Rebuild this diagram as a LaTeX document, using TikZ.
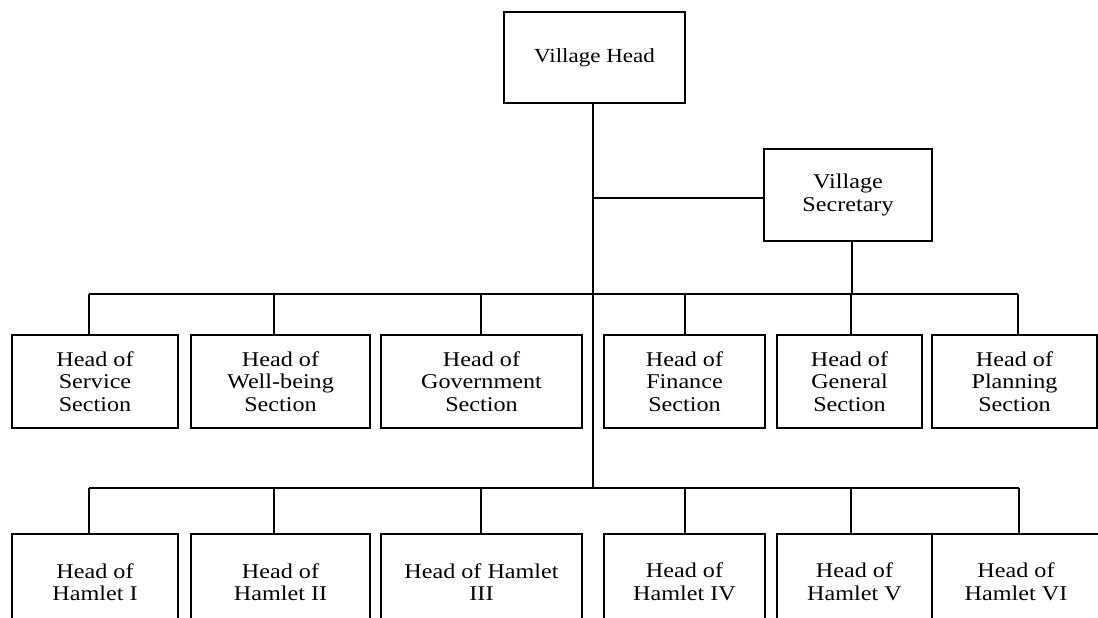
\documentclass[tikz,border=0pt]{standalone}
\usepackage{fontspec}
\setmainfont{Liberation Serif}[FakeStretch=1.15]
\tikzset{
  unitbox/.style={draw, line width=1pt, align=center, inner sep=0pt,
    font=\fontsize{10.5}{11.3}\selectfont},
  link/.style={line width=0.55pt},
}

\begin{document}
\begin{tikzpicture}[x=0.5pt, y=-0.5pt]
  \clip (0,0) rectangle (1098,617);
  \useasboundingbox (0,0) rectangle (1098,617);

  % Top level
  \node[unitbox, minimum width=90.5pt, minimum height=45.5pt, font=\fontsize{10}{11.3}\selectfont] (head) at (594.5,57.5) {Village Head};
  \node[unitbox, minimum width=84pt, minimum height=46pt] (sec) at (848,195) {Village\\Secretary};

  % Sections
  \node[unitbox, minimum width=83pt, minimum height=46.5pt] (s1) at (95,381.5) {Head of\\Service\\Section};
  \node[unitbox, minimum width=89.5pt, minimum height=46.5pt] (s2) at (280.5,381.5) {Head of\\Well-being\\Section};
  \node[unitbox, minimum width=100.5pt, minimum height=46.5pt] (s3) at (481.5,381.5) {Head of\\Government\\Section};
  \node[unitbox, minimum width=80.5pt, minimum height=46.5pt] (s4) at (684.5,381.5) {Head of\\Finance\\Section};
  \node[unitbox, minimum width=72.5pt, minimum height=46.5pt] (s5) at (849.5,381.5) {Head of\\General\\Section};
  \node[unitbox, minimum width=82.5pt, minimum height=46.5pt] (s6) at (1014.5,381.5) {Head of\\Planning\\Section};

  % Hamlets
  \node[unitbox, minimum width=83pt, minimum height=48pt] (h1) at (95,582) {Head of\\Hamlet I};
  \node[unitbox, minimum width=89.5pt, minimum height=48pt] (h2) at (280.5,582) {Head of\\Hamlet II};
  \node[unitbox, minimum width=100.5pt, minimum height=48pt] (h3) at (481.5,582) {Head of Hamlet\\III};
  \node[unitbox, minimum width=80.5pt, minimum height=48pt] (h4) at (684.5,582) {Head of\\Hamlet IV};
  \node[unitbox, minimum width=77.5pt, minimum height=48pt] (h5) at (854.5,582) {Head of\\Hamlet V};
  \node[unitbox, minimum width=84pt, minimum height=48pt] (h6) at (1016,582) {Head of\\Hamlet VI};

  % Bus lines
  \coordinate (trunk) at (593,294);
  \coordinate (tee) at (593,198);
  \coordinate (hbus) at (593,488);
  \coordinate (sdrop) at (852,294);
  \draw[link] (head.south -| trunk) -- (hbus);
  \draw[link] (tee) -- (tee -| sec.west);
  \draw[link] (sec.south -| sdrop) -- (sdrop);
  \draw[link] (89,294) -- (1018,294);
  \draw[link] (89,488) -- (1019,488);

  \foreach \n/\x in {s1/89, s2/274, s3/481, s4/685, s5/851, s6/1018} {
    \coordinate (d\n) at (\x,294);
    \draw[link] (d\n) -- (d\n |- \n.north);
  }
  \foreach \n/\x in {h1/89, h2/274, h3/481, h4/685, h5/851, h6/1019} {
    \coordinate (d\n) at (\x,488);
    \draw[link] (d\n) -- (d\n |- \n.north);
  }
\end{tikzpicture}
\end{document}
